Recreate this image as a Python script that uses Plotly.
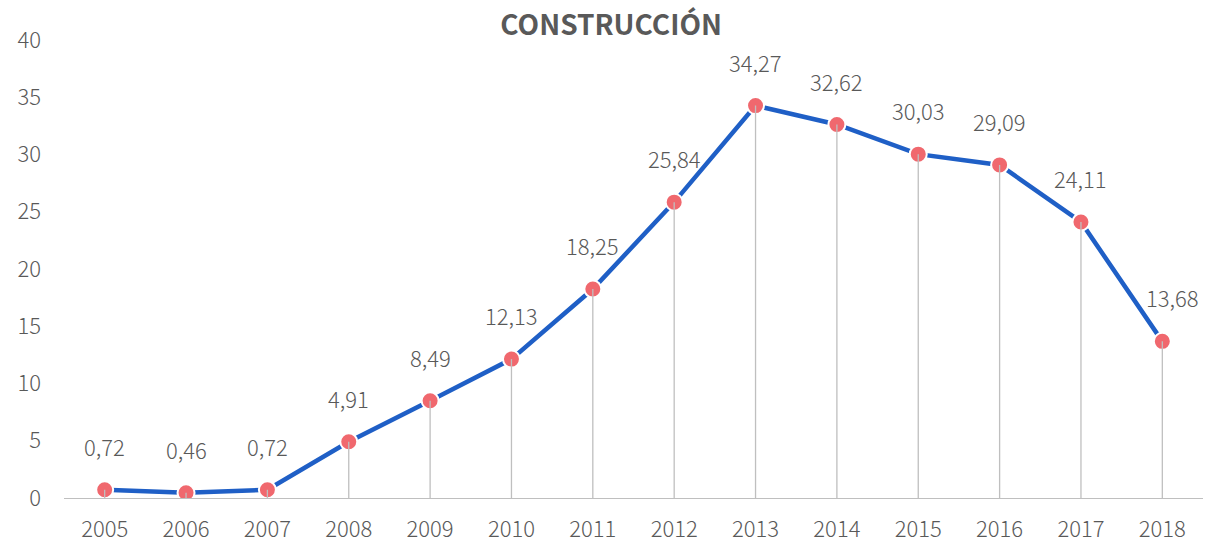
import plotly.graph_objects as go

years = ["2005", "2006", "2007", "2008", "2009", "2010", "2011", "2012", "2013", "2014", "2015", "2016", "2017", "2018"]
values = [0.72, 0.46, 0.72, 4.91, 8.49, 12.13, 18.25, 25.84, 34.27, 32.62, 30.03, 29.09, 24.11, 13.68]
labels = ["0,72", "0,46", "0,72", "4,91", "8,49", "12,13", "18,25", "25,84", "34,27", "32,62", "30,03", "29,09", "24,11", "13,68"]
y_ticks = [0, 5, 10, 15, 20, 25, 30, 35, 40]

FONT = "Noto Sans CJK JP"
TXT = "#595959"

fig = go.Figure()

fig.add_trace(go.Scatter(
    x=years, y=values, mode="lines+markers",
    line=dict(color="#1F5FC6", width=4.5),
    marker=dict(color="#F0686E", size=17, line=dict(color="white", width=2)),
    showlegend=False, hoverinfo="skip",
))

# drop lines from each point to the axis
dx, dy = [], []
for yr, v in zip(years, values):
    dx += [yr, yr, None]
    dy += [v, 0, None]
fig.add_trace(go.Scatter(
    x=dx, y=dy, mode="lines",
    line=dict(color="#BFBFBF", width=1.3),
    showlegend=False, hoverinfo="skip",
))

for i, (v, lab) in enumerate(zip(values, labels)):
    fig.add_annotation(
        x=i, y=v, xref="x", yref="y", text=lab, showarrow=False,
        yshift=44, xshift=(10 if i == len(values) - 1 else 0),
        font=dict(family=FONT, size=22, color=TXT, weight=300),
    )

fig.update_layout(
    width=1209, height=544,
    margin=dict(l=64, r=6, t=40, b=46),
    paper_bgcolor="white", plot_bgcolor="white",
    title=dict(text="<b>CONSTRUCCIÓN</b>", x=0.5055, xanchor="center", y=0.954, yanchor="middle",
               font=dict(family=FONT, size=28, color=TXT)),
    font=dict(family=FONT, color=TXT),
)

fig.update_xaxes(
    type="category", range=[-0.5, 13.5], automargin=False,
    showline=True, linecolor="#BFBFBF", linewidth=1.3,
    showgrid=False, zeroline=False, ticks="",
    tickfont=dict(family=FONT, size=22, color=TXT, weight=300),
    ticklabelstandoff=11,
)
fig.update_yaxes(
    range=[0, 40], tickvals=y_ticks, automargin=False,
    showline=False, showgrid=False, zeroline=False, ticks="",
    tickfont=dict(family=FONT, size=22, color=TXT, weight=300),
    ticklabelstandoff=22,
)

fig.write_html(
    "out.html",
    config={"displayModeBar": False},
    post_script="document.body.style.margin='0';document.body.style.overflow='hidden';",
)
